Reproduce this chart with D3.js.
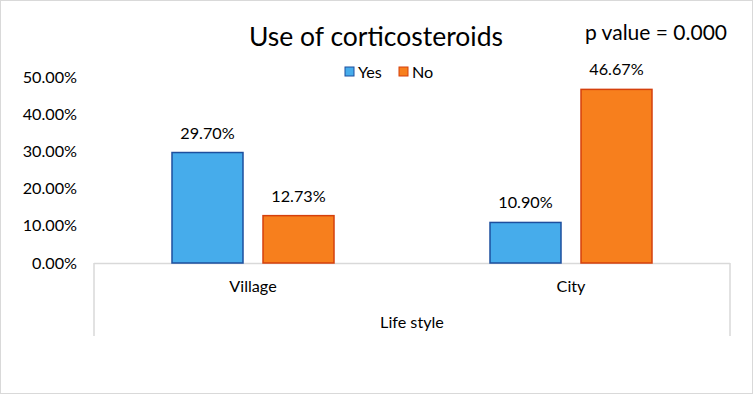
<!DOCTYPE html>
<html><head><meta charset="utf-8">
<script src="https://cdn.jsdelivr.net/npm/d3@7"></script>
<style>body{margin:0;background:#fff}svg{display:block}text{font-family:Lato,"Open Sans",sans-serif;fill:#000}</style>
</head><body><svg id="c" width="754" height="395"></svg>
<script>
const categories = ["Village", "City"];
const seriesNames = ["Yes", "No"];
const yesValues = [29.70, 10.90];
const noValues = [12.73, 46.67];
const yTicks = [0, 10, 20, 30, 40, 50];
const title = "Use of corticosteroids";
const pValueText = "p value = 0.000";
const axisTitle = "Life style";

const svg = d3.select("#c");
const fills = ["#46ACEB", "#F77F1D"];
const strokes = ["#1D4F9E", "#D5400C"];

svg.append("rect").attr("x",0.5).attr("y",0.5).attr("width",752).attr("height",393)
  .attr("fill","#fff").attr("stroke","#d9d9d9");

const x0 = d3.scaleBand().domain(categories).range([94, 730]);
const y = d3.scaleLinear().domain([0, 50]).range([263, 77]);
const x1 = d3.scaleBand().domain(seriesNames).range([0, 162]).paddingInner(20/91);

// y tick labels
svg.append("g").selectAll("text").data(yTicks).join("text")
  .attr("x", 77).attr("y", d => y(d)).attr("dy","0.35em")
  .attr("text-anchor","end").attr("font-size",16.2).text(d => d.toFixed(2) + "%");

// axis lines
const ax = svg.append("g").attr("stroke","#d9d9d9").attr("stroke-width",1.5).attr("fill","none");
ax.append("line").attr("x1",94).attr("x2",730).attr("y1",263.5).attr("y2",263.5);
ax.append("line").attr("x1",94).attr("x2",94).attr("y1",263).attr("y2",336);
ax.append("line").attr("x1",730).attr("x2",730).attr("y1",263).attr("y2",336);

const rows = categories.map((c,i) => ({cat:c, vals:[yesValues[i], noValues[i]]}));
const g = svg.append("g");
rows.forEach(r => {
  const gx = x0(r.cat) + x0.bandwidth()/2 - 81;
  r.vals.forEach((v,j) => {
    const s = seriesNames[j];
    g.append("rect").attr("x", gx + x1(s)).attr("y", y(v)).attr("width", x1.bandwidth())
      .attr("height", y(0) - y(v)).attr("fill", fills[j]).attr("stroke", strokes[j]).attr("stroke-width",1.5);
    g.append("text").attr("x", gx + x1(s) + x1.bandwidth()/2).attr("y", y(v) - 14)
      .attr("text-anchor","middle").attr("font-size",16.2).text(v.toFixed(2) + "%");
  });
});

// category labels
svg.append("g").selectAll("text").data(categories).join("text")
  .attr("x", d => x0(d) + x0.bandwidth()/2).attr("y", 292).attr("text-anchor","middle")
  .attr("font-size",16.2).text(d => d);

svg.append("text").attr("x",412).attr("y",328).attr("text-anchor","middle").attr("font-size",16.2).text(axisTitle);

svg.append("text").attr("x",376).attr("y",46).attr("text-anchor","middle").attr("font-size",26.5).text(title);
svg.append("text").attr("x",656).attr("y",40).attr("text-anchor","middle").attr("font-size",21).text(pValueText);

// legend
const leg = svg.append("g");
const legX = [345, 399];
seriesNames.forEach((s,j) => {
  leg.append("rect").attr("x", legX[j]).attr("y", 67).attr("width",9).attr("height",9)
    .attr("fill", fills[j]).attr("stroke", strokes[j]);
  leg.append("text").attr("x", legX[j] + 13).attr("y", 72).attr("dy","0.35em").attr("font-size",16.2).text(s);
});
</script></body></html>
